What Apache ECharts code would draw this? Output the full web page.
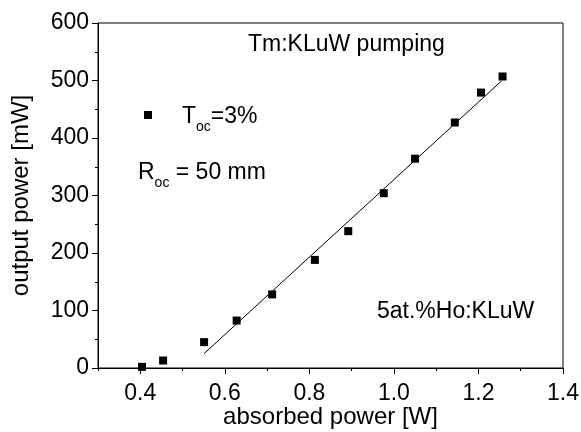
<!DOCTYPE html>
<html>
<head>
<meta charset="utf-8">
<script src="https://cdn.jsdelivr.net/npm/echarts@6/dist/echarts.min.js"></script>
<style>
  html, body { margin: 0; padding: 0; background: #fff; }
  #chart { width: 581px; height: 432px; }
</style>
</head>
<body>
<div id="chart"></div>
<script>
// Measured laser output vs absorbed pump power
const absorbedPower = [0.404, 0.454, 0.551, 0.628, 0.712, 0.813, 0.892, 0.976, 1.050, 1.144, 1.206, 1.257];
const outputPower   = [2, 13, 45, 82.5, 128, 188, 238, 304, 364, 427, 479, 507];

// Linear fit endpoints (slope efficiency fit)
const fitX = [0.551, 1.255];
const fitY = [25, 499.5];

// Tick positions
const xMajorTicks = [0.4, 0.6, 0.8, 1.0, 1.2, 1.4];
const xMinorTicks = [0.3, 0.5, 0.7, 0.9, 1.1, 1.3];

const FONT = '"Liberation Sans", Arial, sans-serif';
const chart = echarts.init(document.getElementById('chart'), null, { renderer: 'canvas' });

const axisCommon = {
  axisLine: { show: true, lineStyle: { color: '#000', width: 1 } },
  splitLine: { show: false }
};

// main text raised above a bottom-aligned subscript
const richMain = { fontFamily: FONT, fontSize: 23, color: '#000', lineHeight: 26, verticalAlign: 'bottom', padding: [0, 0, 6, 0] };
const richSub = { fontFamily: FONT, fontSize: 14, color: '#000', lineHeight: 14, verticalAlign: 'bottom' };

chart.setOption({
  animation: false,
  backgroundColor: '#fff',
  grid: {
    left: 98, right: 18, top: 23, bottom: 64,
    outerBoundsMode: 'none',
    show: true, borderColor: '#000', borderWidth: 1, backgroundColor: 'transparent'
  },
  legend: {
    left: 139, top: 100,
    icon: 'rect', itemWidth: 8, itemHeight: 8, itemGap: 0,
    data: ['Toc'],
    formatter: () => '{m|T}{s|oc}{m|=3%}',
    textStyle: {
      padding: [12, 0, 0, 25],
      rich: { m: richMain, s: richSub }
    }
  },
  xAxis: [
    Object.assign({
      type: 'value', min: 0.3, max: 1.4,
      name: 'absorbed power [W]', nameLocation: 'middle', nameGap: 37, nameMoveOverlap: false,
      nameTextStyle: { fontFamily: FONT, fontSize: 24, color: '#000' },
      axisTick: { show: true, length: 6, lineStyle: { color: '#000' }, customValues: xMajorTicks },
      axisLabel: {
        fontFamily: FONT, fontSize: 23, color: '#000', margin: 14,
        customValues: xMajorTicks, formatter: v => v.toFixed(1)
      }
    }, axisCommon),
    Object.assign({
      type: 'value', min: 0.3, max: 1.4, position: 'bottom',
      axisTick: { show: true, length: 3, lineStyle: { color: '#000' }, customValues: xMinorTicks },
      axisLabel: { show: false }
    }, axisCommon)
  ],
  yAxis: Object.assign({
    type: 'value', min: 0, max: 600, interval: 100,
    name: 'output power [mW]', nameLocation: 'middle', nameGap: 65, nameMoveOverlap: false,
    nameTextStyle: { fontFamily: FONT, fontSize: 24, color: '#000' },
    axisTick: { show: true, length: 6, lineStyle: { color: '#000' } },
    minorTick: { show: true, splitNumber: 2, length: 3, lineStyle: { color: '#000' } },
    axisLabel: { fontFamily: FONT, fontSize: 23, color: '#000', margin: 9 }
  }, axisCommon),
  graphic: [
    {
      type: 'text', left: 248, top: 33,
      style: { text: 'Tm:KLuW pumping', font: '23px ' + FONT, fill: '#000' }
    },
    {
      type: 'text', left: 138, top: 161,
      style: {
        text: '{m|R}{s|oc}{m| = 50 mm}',
        rich: {
          m: { font: '23px ' + FONT, fill: '#000', lineHeight: 26, verticalAlign: 'bottom', padding: [0, 0, 6, 0] },
          s: { font: '14px ' + FONT, fill: '#000', lineHeight: 14, verticalAlign: 'bottom' }
        }
      }
    },
    {
      type: 'text', left: 377, top: 300,
      style: { text: '5at.%Ho:KLuW', font: '23px ' + FONT, fill: '#000' }
    }
  ],
  series: [
    {
      name: 'Toc', type: 'scatter',
      symbol: 'rect', symbolSize: 8,
      itemStyle: { color: '#000', opacity: 1 },
      data: absorbedPower.map((x, i) => [x, outputPower[i]])
    },
    {
      name: 'fit', type: 'line',
      showSymbol: false, symbol: 'none',
      lineStyle: { color: '#000', width: 1 },
      data: fitX.map((x, i) => [x, fitY[i]])
    }
  ]
});
</script>
</body>
</html>
